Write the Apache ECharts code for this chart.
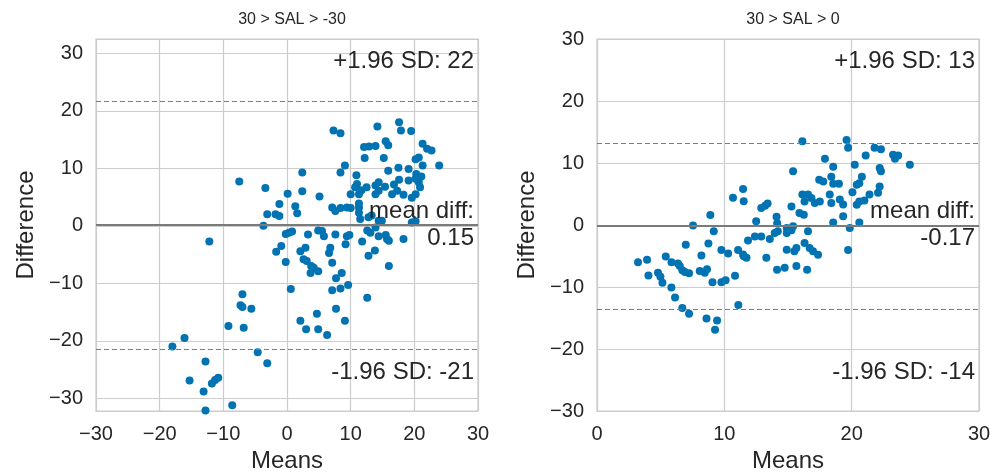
<!DOCTYPE html>
<html><head><meta charset="utf-8">
<script src="https://cdn.jsdelivr.net/npm/echarts@6/dist/echarts.min.js"></script>
<style>html,body{margin:0;padding:0;background:#fff}#c{width:990px;height:472px}</style>
</head><body><div id="c"></div>
<script>
const panelTitles = ['30 > SAL > -30', '30 > SAL > 0'];
const xLabel = 'Means';
const yLabel = 'Difference';
const leftXRange = [-30, 30];
const leftYRange = [-32.2, 32.5];
const rightXRange = [0, 30];
const rightYRange = [-30, 30];
const meanDiff = [0.15, -0.17];
const upperLoA = [21.7, 13.2];
const lowerLoA = [-21.45, -13.55];

const leftMeans = [-7.5,-3.4,0.1,-1.2,-3.1,-1.8,-1.2,-3.7,-0.2,-0.9,-1.7,-0.2,0.6,-12.2,-7.0,-7.3,-7.0,-5.6,-9.2,-6.8,-16.1,-18.0,-4.6,-3.1,-12.8,-15.3,-10.8,-11.3,-11.8,-13.1,-8.6,-12.8,
7.3,8.4,14.2,17.6,17.9,19.5,15.5,15.9,12.1,12.9,13.9,21.3,22.0,22.7,12.2,15.2,20.2,20.7,23.9,9.1,8.4,2.4,15.9,17.5,19.1,20.3,21.3,10.9,11.0,10.7,14.4,13.9,15.4,16.8,17.6,19.1,20.2,20.7,21.1,2.4,5.1,10.0,11.3,11.7,12.5,13.9,14.4,16.5,17.3,18.3,19.6,20.2,20.9,11.3,7.1,7.6,8.4,9.4,10.0,11.3,11.3,1.3,1.6,
11.5,12.8,13.3,14.4,14.9,19.6,20.2,0.3,0.8,3.3,4.9,5.5,5.8,7.6,9.4,9.8,11.8,12.6,13.1,13.9,14.4,15.5,15.7,16.0,18.3,9.2,2.1,2.9,3.1,2.6,6.6,6.8,7.1,3.8,4.2,4.9,3.7,8.6,7.7,12.8,13.8,16.0,9.6,8.4,7.1,12.6,7.7,4.7,2.1,3.0,9.1,4.9,6.3];
const leftDiffs = [7.7,6.6,5.6,3.8,2.0,2.0,1.7,0.0,-1.4,-3.5,-4.5,-6.3,-11.0,-2.7,-11.9,-13.8,-14.1,-14.4,-17.4,-17.7,-19.5,-21.0,-22.0,-23.9,-23.6,-26.9,-26.4,-26.8,-27.4,-28.8,-31.2,-32.1,
16.6,16.1,17.3,18.0,16.6,16.5,14.7,14.0,13.7,13.8,13.9,14.3,13.4,13.1,11.8,11.8,11.6,11.9,10.5,10.5,9.3,9.3,9.6,10.1,9.9,9.0,10.5,8.8,7.3,6.7,7.6,7.0,6.8,7.2,8.0,7.9,8.2,7.6,8.6,6.0,5.1,5.5,5.5,6.2,6.7,5.5,6.1,5.5,6.1,5.4,4.9,5.5,6.7,3.9,3.2,2.6,3.1,3.2,3.1,3.2,2.3,3.4,2.2,
1.2,1.5,1.8,0.9,0.9,0.6,0.8,-1.2,-1.0,-1.5,-0.8,-0.9,-1.8,-1.5,-1.8,-1.6,-2.7,-0.8,-1.2,-0.3,-1.8,-1.6,-2.3,-2.6,-2.3,-3.2,-4.4,-3.8,-6.1,-5.8,-4.7,-3.8,-6.4,-7.0,-7.3,-7.9,-8.2,-8.2,-9.1,-5.2,-4.3,-7.0,-10.3,-10.9,-11.2,-12.5,-14.4,-15.3,-16.5,-18.0,-16.5,-18.0,-19.0];

const rightMeans = [11.47,10.68,11.52,12.9,13.2,13.4,8.9,14.1,14.15,12.5,7.54,9.17,6.97,8.75,11.86,12.4,12.9,13.57,13.96,14.2,9.77,10.3,11.08,11.47,11.74,11.52,13.3,14.14,8.2,3.22,3.93,5.4,5.85,6.36,6.5,6.7,7.23,6.9,4.04,4.79,4.98,5.14,5.84,6.13,6.7,7.23,8.07,8.46,8.64,9.07,9.77,10.1,10.84,11.1,8.6,9.43,9.27,
16.13,19.6,19.72,21.8,22.3,23.25,23.65,23.4,24.57,21.1,17.9,18.55,20.24,22.2,22.3,15.4,17.45,17.77,18.4,18.55,19.0,20.8,20.6,20.4,22.2,16.13,16.57,16.84,16.3,17.5,17.1,18.28,18.4,19.07,19.33,20.06,21.4,22.07,20.6,21.0,20.4,15.27,16.24,19.33,15.9,18.55,19.85,20.6,14.9,15.27,15.4,16.57,14.9,15.5,15.66,16.3,16.7,16.97,17.36,19.72,14.74,15.66,16.5,14.9];
const rightDiffs = [5.8,4.4,3.85,2.75,3.1,3.45,1.6,1.35,0.3,0.6,-0.1,-1.0,-3.2,-3.0,-2.5,-1.85,-1.85,-2.25,-1.3,-1.0,-4.05,-4.6,-4.05,-4.75,-5.3,-5.05,-5.3,-7.2,-4.9,-6.0,-5.6,-5.1,-6.0,-6.2,-6.6,-7.3,-7.8,-7.6,-8.15,-7.7,-8.35,-9.3,-10.1,-11.7,-13.4,-14.3,-7.4,-7.7,-7.15,-9.25,-9.25,-8.9,-8.2,-12.9,-15.1,-15.4,-16.9,
13.5,13.7,12.45,12.45,12.2,11.35,11.2,10.7,9.7,11.2,10.7,9.4,9.7,9.2,8.65,8.65,7.3,7.0,7.8,6.65,6.65,7.8,6.75,6.5,6.2,4.9,4.9,4.35,3.8,3.8,3.55,4.9,3.55,4.1,3.3,5.3,4.9,5.2,3.8,3.95,3.25,3.0,1.65,1.4,1.95,0.4,-0.5,0.4,-0.5,-0.85,-0.2,-1.0,-4.0,-4.25,-3.7,-2.9,-3.7,-4.25,-4.8,-4.05,-6.9,-6.6,-7.2,-1.3];

const FONT = 'Liberation Sans, Arial, sans-serif';
const TXT = '#262626';
const DOT = '#0173b2';
const grids = [
  {left: 96, top: 39, width: 382, height: 372},
  {left: 597, top: 39, width: 382, height: 372}
];
const fmt = v => (v < 0 ? '\u2212' + Math.abs(v) : String(v));
const pair = (xs, ys) => xs.map((x, i) => [x, ys[i]]);

function xAxisFor(i, range) {
  return {
    type: 'value', gridIndex: i, min: range[0], max: range[1], interval: 10,
    name: xLabel, nameLocation: 'middle', nameGap: 38,
    nameTextStyle: {fontSize: 24, color: TXT, fontFamily: FONT},
    axisLine: {show: false}, axisTick: {show: false},
    axisLabel: {fontSize: 20, color: TXT, fontFamily: FONT, margin: 13, formatter: fmt},
    splitLine: {show: true, lineStyle: {color: '#cccccc', width: 1.2}}
  };
}
function yAxisFor(i, range, useInterval) {
  const a = {
    type: 'value', gridIndex: i, min: range[0], max: range[1],
    name: yLabel, nameLocation: 'middle', nameGap: 58,
    nameTextStyle: {fontSize: 24, color: TXT, fontFamily: FONT},
    axisLine: {show: false}, axisTick: {show: false},
    axisLabel: {fontSize: 20, color: TXT, fontFamily: FONT, margin: 13, formatter: fmt,
      showMinLabel: useInterval, showMaxLabel: useInterval},
    splitLine: {show: true, lineStyle: {color: '#cccccc', width: 1.2}}
  };
  if (useInterval) a.interval = 10; else a.splitNumber = 6;
  return a;
}
function seriesFor(i, xs, ys) {
  return {
    type: 'scatter', xAxisIndex: i, yAxisIndex: i, data: pair(xs, ys),
    symbolSize: 8, itemStyle: {color: DOT, opacity: 1}, clip: true,
    markLine: {
      silent: true, symbol: 'none', label: {show: false}, animation: false,
      data: [
        {yAxis: meanDiff[i], lineStyle: {type: 'solid', color: '#7a7a7a', width: 1.8}},
        {yAxis: upperLoA[i], lineStyle: {type: [5, 3], color: '#7a7a7a', width: 1.1}},
        {yAxis: lowerLoA[i], lineStyle: {type: [5, 3], color: '#7a7a7a', width: 1.1}}
      ]
    }
  };
}
function annot(i) {
  const g = grids[i];
  const rx = g.left + g.width - 4;
  const base = {fontSize: 24, fontFamily: FONT, fill: TXT, align: 'right', verticalAlign: 'middle'};
  const lines = [
    ['+1.96 SD: ' + Math.round(upperLoA[i]), g.top + 22],
    ['mean diff:', g.top + 172],
    [meanDiff[i].toFixed(2), g.top + 199],
    ['-1.96 SD: ' + Math.round(lowerLoA[i]), g.top + 333]
  ];
  return lines.map(([t, y]) => ({type: 'text', z: 100, style: Object.assign({text: t, x: rx, y: y}, base)}));
}

const chart = echarts.init(document.getElementById('c'), null, {renderer: 'canvas'});
chart.setOption({
  animation: false,
  backgroundColor: '#ffffff',
  title: panelTitles.map((t, i) => ({
    text: t, left: grids[i].left + grids[i].width / 2, top: 7, textAlign: 'center',
    textStyle: {fontSize: 16, fontWeight: 'normal', color: TXT, fontFamily: FONT}
  })),
  grid: grids.map(g => Object.assign({show: true, borderColor: '#cccccc', borderWidth: 1.25,
    containLabel: false, outerBoundsMode: 'none'}, g)),
  xAxis: [xAxisFor(0, leftXRange), xAxisFor(1, rightXRange)],
  yAxis: [yAxisFor(0, leftYRange, false), yAxisFor(1, rightYRange, true)],
  series: [seriesFor(0, leftMeans, leftDiffs), seriesFor(1, rightMeans, rightDiffs)],
  graphic: annot(0).concat(annot(1))
});
</script></body></html>
